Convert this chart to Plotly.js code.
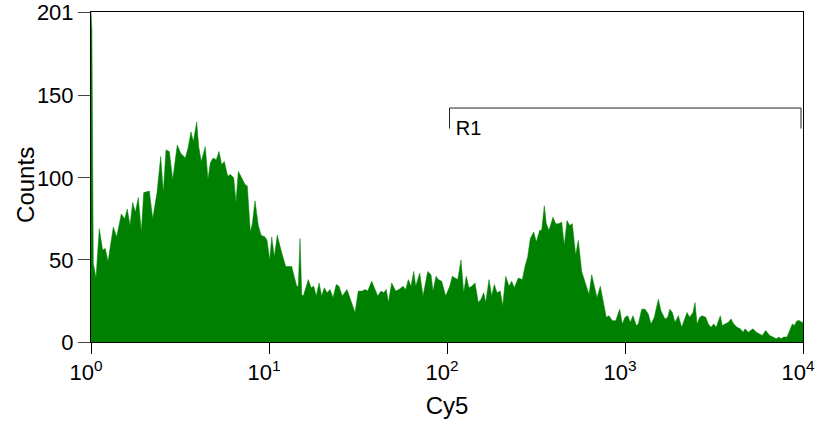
<!DOCTYPE html>
<html>
<head>
<meta charset="utf-8">
<script src="https://cdn.plot.ly/plotly-3.0.1.min.js"></script>
<style>html,body{margin:0;padding:0;background:#fff;}#chart{width:816px;height:423px;}</style>
</head>
<body>
<div id="chart"></div>
<script>
// Cy5 channel positions (fluorescence intensity) and event counts
const cy5 = [
  1.000, 1.012, 1.030, 1.067, 1.113, 1.163, 1.203, 1.246, 1.335, 1.394,
  1.480, 1.546, 1.599, 1.656, 1.715, 1.774, 1.844, 1.917, 1.978, 2.126,
  2.222, 2.349, 2.464, 2.548, 2.638, 2.754, 2.877, 3.053, 3.191, 3.387,
  3.507, 3.646, 3.756, 3.925, 4.028, 4.166, 4.386, 4.542, 4.679,
  4.846, 5.057, 5.238, 5.424, 5.609, 5.862, 6.061, 6.335, 6.526, 6.723,
  7.079, 7.333, 7.553, 7.853, 8.057, 8.343, 8.707, 9.033, 9.495, 9.745,
  10.09, 10.36, 10.71, 11.13, 11.68, 12.41, 13.41, 14.31, 14.61, 14.94,
  15.27, 15.59, 16.63, 17.22, 17.83, 18.44, 19.10, 19.78, 20.45, 21.18,
  22.02, 22.89, 23.88, 24.73, 25.81, 27.43, 28.89, 30.42, 31.75, 33.44,
  34.62, 35.85, 37.76, 39.40, 40.81, 42.59, 44.10, 45.61, 46.80, 48.90,
  51.50, 53.74, 56.60, 58.62, 60.62, 62.78, 65.01, 66.72, 70.25, 73.33,
  77.92, 81.32, 83.44, 86.75, 89.37, 93.37, 98.33, 103.6,
  107.1, 110.9, 114.9, 119.9, 124.1, 128.3, 132.9, 137.7, 143.7, 149.9,
  155.2, 160.8, 165.0, 172.2, 178.3, 184.4, 191.0, 199.3, 205.5, 213.7,
  223.0, 230.9, 238.8, 251.5, 264.9, 274.3, 284.1, 293.8, 307.0, 317.5,
  331.8, 340.4, 352.1, 361.4, 374.1, 394.0, 408.1, 422.1, 441.0, 456.1,
  472.3, 489.0,
  505.7, 528.4, 546.5, 571.1, 596.1, 627.8, 650.1, 672.3, 696.3, 726.6,
  759.3, 785.3, 813.2, 848.7, 886.8, 933.7, 965.7, 1000, 1036, 1071,
  1109, 1157, 1188, 1241, 1296, 1352, 1400, 1461, 1539, 1593,
  1677, 1738, 1783, 1844, 1910, 1993, 2082, 2137, 2230, 2309,
  2410, 2474, 2539, 2629, 2719, 2841, 2938, 3042, 3150, 3257,
  3344, 3431, 3520, 3679, 3805, 3940, 4081, 4259, 4445, 4602,
  4723, 4929, 5238, 5465, 5660, 5906, 6172, 6501, 6785, 7079,
  7333, 7524, 7792, 8130, 8419, 8707, 8935, 9254, 9583, 9833, 10000
];
const counts = [
  201, 190, 48, 39, 69, 56, 57, 49, 70, 64,
  78, 75, 81, 71, 85, 79, 88, 67, 91, 92,
  75, 91, 113, 91, 117, 116, 99, 120, 115, 112,
  118, 128, 122, 134, 119, 110, 119, 99, 109,
  112, 111, 116, 108, 110, 101, 102, 100, 85, 104,
  99, 96, 95, 67, 72, 86, 71, 65, 64, 62,
  50, 64, 52, 65, 56, 46, 46, 34, 34, 63,
  29, 28, 38, 33, 34, 28, 36, 28, 33, 30,
  32, 27, 35, 34, 28, 32, 25, 18, 31, 31,
  32, 31, 37, 32, 28, 31, 30, 32, 24, 36,
  31, 32, 34, 32, 38, 34, 43, 34, 42, 28,
  43, 41, 31, 40, 38, 37, 28, 34,
  40, 39, 38, 50, 30, 40, 33, 34, 36, 24,
  26, 30, 24, 38, 28, 35, 30, 31, 22, 40,
  34, 37, 33, 39, 38, 46, 52, 63, 67, 61,
  68, 68, 83, 72, 68, 76, 72, 72, 73, 59,
  74, 71,
  72, 53, 62, 43, 36, 29, 41, 34, 27, 34,
  22, 15, 16, 13, 13, 20, 11, 15, 16, 12,
  16, 10, 11, 20, 20, 17, 11, 15, 26, 19,
  14, 15, 20, 18, 12, 16, 9, 12, 18, 15,
  18, 24, 11, 15, 16, 15, 11, 9, 11, 9,
  12, 16, 10, 11, 12, 14, 11, 9, 8, 6,
  8, 6, 8, 6, 5, 4, 7, 4, 3, 2,
  3, 2, 3, 3, 7, 11, 10, 13, 13, 12, 12
];

// Axis ticks
const xTickVals = [1, 10, 100, 1000, 10000];
const xTickText = ['10<sup>0</sup>', '10<sup>1</sup>', '10<sup>2</sup>', '10<sup>3</sup>', '10<sup>4</sup>'];
const yTickVals = [0, 50, 100, 150, 201];
const yTickText = ['0', '50', '100', '150', '201'];
const xTitle = 'Cy5';
const yTitle = 'Counts';

// Gate region R1
const regionName = 'R1';
const regionStart = 103.3;
const regionEnd = 9745;
const regionLevel = 142.5;
const regionFoot = 130;
const regionLabelX = 112;
const regionLabelY = 129;

const FONT = 'Liberation Sans, Arial, sans-serif';

const traces = [
  {
    type: 'scatter',
    mode: 'lines',
    x: cy5,
    y: counts,
    fill: 'tozeroy',
    fillcolor: 'rgb(0,128,0)',
    line: {color: 'rgb(0,128,0)', width: 0.5, shape: 'linear'},
    hoverinfo: 'x+y',
    showlegend: false
  },
  {
    type: 'scatter',
    mode: 'lines',
    x: [regionStart, regionStart, regionEnd, regionEnd],
    y: [regionFoot, regionLevel, regionLevel, regionFoot],
    line: {color: '#222', width: 1},
    hoverinfo: 'skip',
    showlegend: false
  },
  {
    type: 'scatter',
    mode: 'text',
    x: [regionLabelX],
    y: [regionLabelY],
    text: [regionName],
    textposition: 'middle right',
    textfont: {family: FONT, size: 20, color: '#000'},
    hoverinfo: 'skip',
    showlegend: false
  }
];

const layout = {
  width: 816,
  height: 423,
  margin: {l: 91, r: 13, t: 12, b: 81, pad: 0},
  paper_bgcolor: '#fff',
  plot_bgcolor: '#fff',
  font: {family: FONT, color: '#000'},
  showlegend: false,
  xaxis: {
    type: 'log',
    range: [0, 4],
    tickvals: xTickVals,
    ticktext: xTickText,
    ticks: 'outside',
    ticklen: 11,
    tickwidth: 1,
    tickcolor: '#000',
    showline: true,
    linecolor: '#000',
    linewidth: 1,
    mirror: true,
    showgrid: false,
    zeroline: false,
    ticklabeloverflow: 'allow',
    ticklabelshift: -5,
    tickfont: {family: FONT, size: 22, color: '#000'},
    title: {text: xTitle, font: {family: FONT, size: 24, color: '#000'}, standoff: 12},
    automargin: false
  },
  yaxis: {
    range: [0, 201],
    tickvals: yTickVals,
    ticktext: yTickText,
    ticks: 'outside',
    ticklen: 12,
    tickwidth: 1,
    tickcolor: '#444',
    showline: true,
    linecolor: '#000',
    linewidth: 1,
    mirror: true,
    showgrid: false,
    zeroline: false,
    ticklabeloverflow: 'allow',
    tickfont: {family: FONT, size: 22, color: '#000'},
    automargin: false
  },
  annotations: [
    {
      xref: 'paper', yref: 'paper',
      x: -0.0913, y: 0.476,
      xanchor: 'center', yanchor: 'middle',
      text: yTitle,
      textangle: -90,
      showarrow: false,
      font: {family: FONT, size: 24, color: '#000'}
    }
  ]
};

Plotly.newPlot('chart', traces, layout, {displayModeBar: false, staticPlot: true});
</script>
</body>
</html>
